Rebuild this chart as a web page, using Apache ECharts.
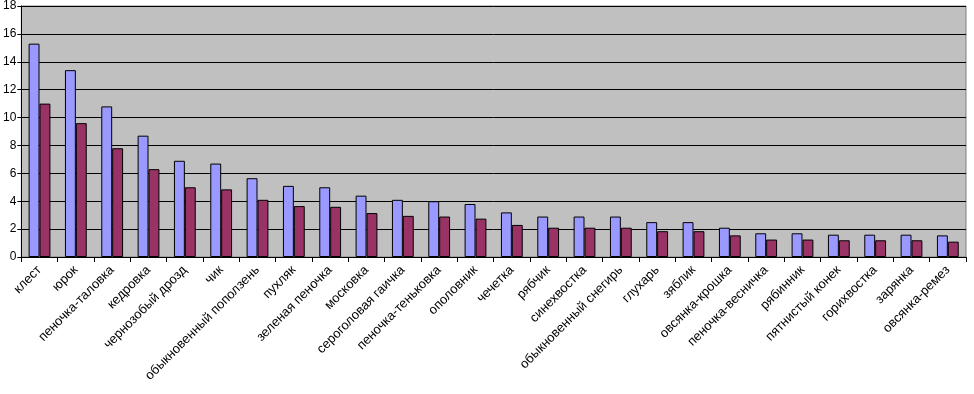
<!DOCTYPE html>
<html><head><meta charset="utf-8">
<script src="https://cdn.jsdelivr.net/npm/echarts@6/dist/echarts.min.js"></script>
<style>html,body{margin:0;padding:0;background:#fff}#c{width:974px;height:394px}</style>
</head><body><div id="c"></div>
<script>
const categories = ["клест","юрок","пеночка-таловка","кедровка","чернозобый дрозд","чик","обыкновенный поползень","пухляк","зеленая пеночка","московка","сероголовая гаичка","пеночка-теньковка","ополовник","чечетка","рябчик","синехвостка","обыкновенный снегирь","глухарь","зяблик","овсянка-крошка","пеночка-весничка","рябинник","пятнистый конек","горихвостка","зарянка","овсянка-ремез"];
const series1 = [15.3,13.4,10.8,8.7,6.9,6.7,5.65,5.1,5.0,4.4,4.1,4.0,3.8,3.2,2.9,2.9,2.9,2.5,2.5,2.1,1.7,1.7,1.6,1.6,1.6,1.55];
const series2 = [11.0,9.6,7.8,6.3,5.0,4.85,4.1,3.65,3.6,3.15,2.95,2.9,2.75,2.3,2.1,2.1,2.1,1.85,1.85,1.55,1.25,1.25,1.2,1.2,1.2,1.1];
const yTicks = {min:0, max:18, interval:2};
const chart = echarts.init(document.getElementById('c'));
chart.setOption({
  animation:false,
  grid:{left:21,right:8,top:4,bottom:137,show:true,backgroundColor:'#C0C0C0',borderColor:'#808080',borderWidth:1},
  xAxis:{type:'category',data:categories,boundaryGap:true,
    axisLine:{lineStyle:{color:'#000'}},
    axisTick:{show:true,alignWithLabel:false,length:5,lineStyle:{color:'#000'}},
    axisLabel:{interval:0,rotate:45,color:'#000',fontFamily:'Liberation Sans, Arial',fontSize:13,margin:11}},
  yAxis:{type:'value',min:yTicks.min,max:yTicks.max,interval:yTicks.interval,
    axisLine:{show:true,lineStyle:{color:'#000'}},
    axisTick:{show:true,length:4,lineStyle:{color:'#000'}},
    splitLine:{lineStyle:{color:'#000',width:1}},
    axisLabel:{color:'#000',fontFamily:'Liberation Sans, Arial',fontSize:12,margin:5}},
  series:[
    {type:'bar',data:series1,barGap:'0%',barCategoryGap:'40%',itemStyle:{color:'#9999FF',borderColor:'#000',borderWidth:1}},
    {type:'bar',data:series2,itemStyle:{color:'#993366',borderColor:'#000',borderWidth:1}}
  ]
});
</script></body></html>
